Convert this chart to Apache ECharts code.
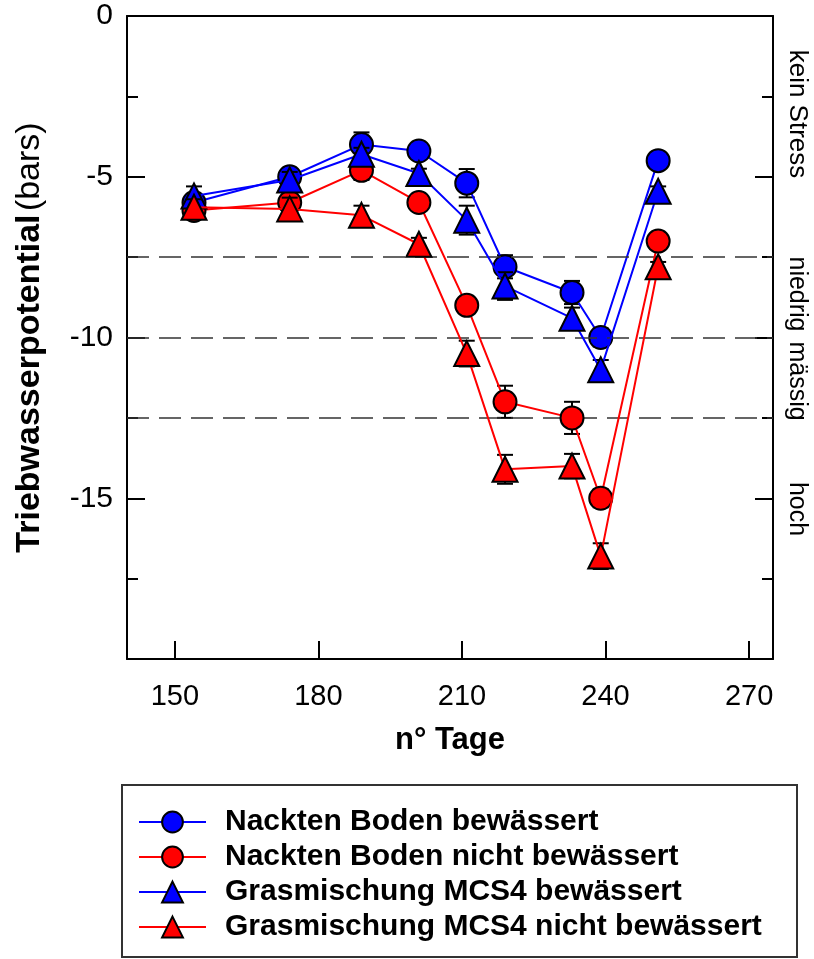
<!DOCTYPE html>
<html>
<head>
<meta charset="utf-8">
<script src="https://cdn.jsdelivr.net/npm/echarts@6/dist/echarts.min.js"></script>
<style>
  html, body { margin: 0; padding: 0; background: #fff; }
  #main { width: 814px; height: 959px; }
</style>
</head>
<body>
<div id="main"></div>
<script>
var myChart = echarts.init(document.getElementById('main'));

// days of measurement
var days = [154, 174, 189, 201, 211, 219, 233, 239, 251];

// shoot water potential (bars) and error (+/-)
var bodenBew = [-5.8, -5.0, -4.0, -4.2, -5.2, -7.8, -8.6, -10.0, -4.5];
var bodenBewErr = [0.25, 0.22, 0.38, 0.1, 0.44, 0.36, 0.36, 0.28, 0.1];
var bodenNicht = [-6.05, -5.8, -4.8, -5.8, -9.0, -12.0, -12.5, -15.0, -7.0];
var bodenNichtErr = [0.25, 0.3, 0.3, 0.1, 0.2, 0.5, 0.5, 0.28, 0.1];
var grasBew = [-5.6, -5.1, -4.3, -4.9, -6.35, -8.4, -9.4, -11.0, -5.45];
var grasBewErr = [0.3, 0.25, 0.2, 0.15, 0.45, 0.43, 0.33, 0.3, 0.15];
var grasNicht = [-5.95, -6.0, -6.2, -7.1, -10.5, -14.1, -14.0, -16.8, -7.8];
var grasNichtErr = [0.25, 0.35, 0.3, 0.2, 0.4, 0.45, 0.38, 0.4, 0.15];

var names = [
    'Nackten Boden bewässert',
    'Nackten Boden nicht bewässert',
    'Grasmischung MCS4 bewässert',
    'Grasmischung MCS4 nicht bewässert'
];
var xTicks = [150, 180, 210, 240, 270];
var stressLevels = [-7.5, -10, -12.5];

var font = 'Liberation Sans, Arial, sans-serif';

function pairs(ys) {
    return days.map(function (d, i) { return [d, ys[i]]; });
}
function errData(ys, errs) {
    return days.map(function (d, i) { return [d, ys[i], errs[i]]; });
}

function renderErr(params, api) {
    var x = api.value(0), y = api.value(1), e = api.value(2);
    var top = api.coord([x, y + e]);
    var bot = api.coord([x, y - e]);
    var hw = 8;
    var st = { stroke: '#000', lineWidth: 2 };
    return {
        type: 'group',
        children: [
            { type: 'line', shape: { x1: top[0], y1: top[1], x2: bot[0], y2: bot[1] }, style: st },
            { type: 'line', shape: { x1: top[0] - hw, y1: top[1], x2: top[0] + hw, y2: top[1] }, style: st },
            { type: 'line', shape: { x1: bot[0] - hw, y1: bot[1], x2: bot[0] + hw, y2: bot[1] }, style: st }
        ]
    };
}

var sets = [
    { ys: bodenBew, errs: bodenBewErr, color: '#0000ff', symbol: 'circle', size: 23 },
    { ys: bodenNicht, errs: bodenNichtErr, color: '#ff0000', symbol: 'circle', size: 23 },
    { ys: grasBew, errs: grasBewErr, color: '#0000ff', symbol: 'triangle', size: 25 },
    { ys: grasNicht, errs: grasNichtErr, color: '#ff0000', symbol: 'triangle', size: 25 }
];

var series = [];
sets.forEach(function (s, i) {
    series.push({
        type: 'custom',
        name: names[i] + ' err',
        renderItem: renderErr,
        data: errData(s.ys, s.errs),
        z: 2 + i * 2,
        silent: true
    });
    var line = {
        type: 'line',
        name: names[i],
        data: pairs(s.ys),
        symbol: s.symbol,
        symbolSize: s.size,
        z: 3 + i * 2,
        lineStyle: { color: s.color, width: 2 },
        itemStyle: { color: s.color, borderColor: '#000', borderWidth: 2 },
        emphasis: { disabled: true }
    };
    if (i === 0) {
        line.markLine = {
            silent: true,
            symbol: 'none',
            label: { show: false },
            lineStyle: { color: '#333', width: 1.5, type: [22, 10] },
            data: stressLevels.map(function (v) { return { yAxis: v }; })
        };
    }
    series.push(line);
});

option = {
    backgroundColor: '#fff',
    animation: false,
    grid: { left: 127, right: 41, top: 16, bottom: 300 },
    xAxis: [
        {
            type: 'value',
            min: 140,
            max: 275,
            name: 'n° Tage',
            nameLocation: 'middle',
            nameGap: 66,
            nameTextStyle: { fontFamily: font, fontSize: 31, fontWeight: 'bold', color: '#000' },
            axisLine: { show: true, onZero: false, lineStyle: { color: '#000', width: 2 } },
            axisTick: { show: true, inside: true, length: 18, customValues: xTicks, lineStyle: { color: '#000', width: 2 } },
            axisLabel: { customValues: xTicks, fontFamily: font, fontSize: 29, color: '#000', margin: 23 },
            splitLine: { show: false }
        },
        {
            type: 'value',
            position: 'top',
            min: 140,
            max: 275,
            axisLine: { show: true, onZero: false, lineStyle: { color: '#000', width: 2 } },
            axisTick: { show: false },
            axisLabel: { show: false },
            splitLine: { show: false }
        }
    ],
    yAxis: [
        {
            type: 'value',
            min: -20,
            max: 0,
            interval: 5,
            name: '{b|Triebwasserpotential} {r|(bars)}',
            nameLocation: 'middle',
            nameGap: 80,
            nameTextStyle: {
                rich: {
                    b: { fontFamily: font, fontSize: 34, fontWeight: 'bold', color: '#000' },
                    r: { fontFamily: font, fontSize: 34, color: '#000' }
                }
            },
            axisLine: { show: true, onZero: false, lineStyle: { color: '#000', width: 2 } },
            axisTick: { show: true, inside: true, length: 18, lineStyle: { color: '#000', width: 2 } },
            minorTick: { show: true, splitNumber: 2, length: 11, lineStyle: { color: '#000', width: 2 } },
            axisLabel: {
                fontFamily: font, fontSize: 30, color: '#000', margin: 14,
                formatter: function (v) { return v === -20 ? '' : String(v); }
            },
            splitLine: { show: false }
        },
        {
            type: 'value',
            position: 'right',
            min: -20,
            max: 0,
            interval: 5,
            axisLine: { show: true, onZero: false, lineStyle: { color: '#000', width: 2 } },
            axisTick: { show: true, inside: true, length: 18, lineStyle: { color: '#000', width: 2 } },
            minorTick: { show: true, splitNumber: 2, length: 11, lineStyle: { color: '#000', width: 2 } },
            axisLabel: { show: false },
            splitLine: { show: false }
        }
    ],
    legend: {
        orient: 'vertical',
        left: 133,
        top: 802,
        itemWidth: 67,
        itemHeight: 26,
        itemGap: 5,
        selectedMode: false,
        data: names,
        textStyle: { fontFamily: font, fontSize: 30, fontWeight: 'bold', color: '#000', lineHeight: 30, padding: [0, 0, 0, 14] }
    },
    graphic: [
        {
            type: 'rect',
            shape: { x: 122, y: 785, width: 675, height: 172 },
            style: { fill: 'none', stroke: '#333', lineWidth: 2 },
            silent: true
        },
        { type: 'text', x: 797, y: 114, rotation: -Math.PI / 2, style: { text: 'kein Stress', font: '26px ' + font, fill: '#000', align: 'center', verticalAlign: 'middle' } },
        { type: 'text', x: 797, y: 294, rotation: -Math.PI / 2, style: { text: 'niedrig', font: '25px ' + font, fill: '#000', align: 'center', verticalAlign: 'middle' } },
        { type: 'text', x: 797, y: 381, rotation: -Math.PI / 2, style: { text: 'mässig', font: '25px ' + font, fill: '#000', align: 'center', verticalAlign: 'middle' } },
        { type: 'text', x: 797, y: 509, rotation: -Math.PI / 2, style: { text: 'hoch', font: '25px ' + font, fill: '#000', align: 'center', verticalAlign: 'middle' } }
    ],
    series: series
};

myChart.setOption(option);
</script>
</body>
</html>
